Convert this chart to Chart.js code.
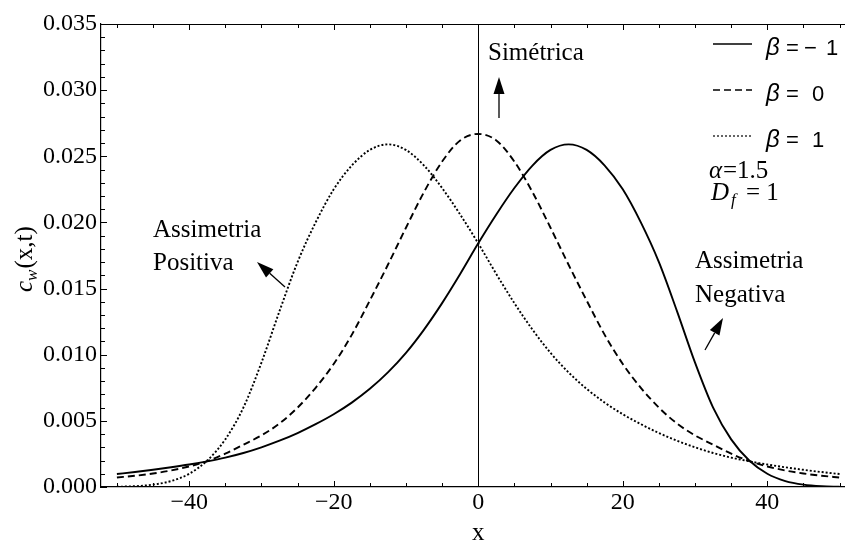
<!DOCTYPE html>
<html lang="pt">

<head>
    <meta charset="utf-8" />
    <script src="https://cdn.jsdelivr.net/npm/chart.js@4.4.1/dist/chart.umd.min.js"></script>
    <style>
        html, body { margin: 0; padding: 0; background: #fff; overflow: hidden; }
        canvas { display: block; }
    </style>
</head>

<body>
    <canvas id="levyChart" width="845" height="544"></canvas>

    <script>
        // sample positions along x
        const xValues = [
            -50, -47.5, -45, -42.5, -40, -37.5, -35, -32.5, -30, -27.5, -25, -22.5, -20, -17.5,
            -15, -12.5, -10, -7.5, -5, -2.5, 0, 2.5, 5, 7.5, 10, 12.5, 15, 17.5, 20, 22.5,
            25, 27.5, 30, 32.5, 35, 37.5, 40, 42.5, 45, 47.5, 50
        ];

        // c_w(x,t) for beta = -1 (solid)
        const betaMinus1 = [
            0.00098, 0.00113, 0.00130, 0.00149, 0.00170, 0.00194, 0.00222, 0.00257, 0.00300, 0.00350,
            0.00408, 0.00475, 0.00550, 0.00638, 0.00742, 0.00866, 0.01014, 0.01190, 0.01390, 0.01610,
            0.01842, 0.02060, 0.02260, 0.02430, 0.02548, 0.02590, 0.02548, 0.02430, 0.02250, 0.02000,
            0.01700, 0.01330, 0.00940, 0.00600, 0.00360, 0.00200, 0.00100, 0.00045, 0.00018, 0.00006,
            0.00002
        ];

        // beta = 0 (dashed)
        const betaZero = [
            0.00072, 0.00085, 0.00102, 0.00125, 0.00155, 0.00196, 0.00252, 0.00320, 0.00390, 0.00480,
            0.00600, 0.00750, 0.00930, 0.01150, 0.01410, 0.01680, 0.01960, 0.02230, 0.02460, 0.02620,
            0.02669, 0.02620, 0.02460, 0.02230, 0.01960, 0.01680, 0.01410, 0.01150, 0.00930, 0.00750,
            0.00600, 0.00480, 0.00390, 0.00320, 0.00252, 0.00196, 0.00155, 0.00125, 0.00102, 0.00085,
            0.00072
        ];

        // beta = 1 (dotted)
        const betaPlus1 = [
            0.00002, 0.00006, 0.00018, 0.00045, 0.00100, 0.00200, 0.00360, 0.00600, 0.00940, 0.01330,
            0.01700, 0.02000, 0.02250, 0.02430, 0.02548, 0.02590, 0.02548, 0.02430, 0.02260, 0.02060,
            0.01842, 0.01610, 0.01390, 0.01190, 0.01014, 0.00866, 0.00742, 0.00638, 0.00550, 0.00475,
            0.00408, 0.00350, 0.00300, 0.00257, 0.00222, 0.00194, 0.00170, 0.00149, 0.00130, 0.00113,
            0.00098
        ];

        const seriesNames = ["\u03b2 = \u22121", "\u03b2 = 0", "\u03b2 = 1"];

        // frame ticks
        const xMajorTicks = [-40, -20, 0, 20, 40];
        const xMinorTicks = [-50, -45, -35, -30, -25, -15, -10, -5, 5, 10, 15, 25, 30, 35, 45, 50];
        const yMajorTicks = [0, 0.005, 0.010, 0.015, 0.020, 0.025, 0.030, 0.035];
        const yMinorTicks = [
            0.001, 0.002, 0.003, 0.004, 0.006, 0.007, 0.008, 0.009, 0.011, 0.012, 0.013, 0.014,
            0.016, 0.017, 0.018, 0.019, 0.021, 0.022, 0.023, 0.024, 0.026, 0.027, 0.028, 0.029,
            0.031, 0.032, 0.033, 0.034
        ];

        const SERIF = '"Liberation Serif", "Times New Roman", serif';
        const SANS = '"Liberation Sans", Arial, sans-serif';

        const lineStyles = [
            { dash: [], width: 1.9 },
            { dash: [7, 4], width: 1.9 },
            { dash: [2, 2], width: 1.9 },
        ];

        function arrow(ctx, x0, y0, x1, y1) {
            const ang = Math.atan2(y1 - y0, x1 - x0);
            const len = 17, half = 5.5;
            const bx = x1 - len * Math.cos(ang), by = y1 - len * Math.sin(ang);
            ctx.beginPath();
            ctx.moveTo(x0, y0);
            ctx.lineTo(bx, by);
            ctx.lineWidth = 1.3;
            ctx.stroke();
            ctx.beginPath();
            ctx.moveTo(x1, y1);
            ctx.lineTo(bx + half * Math.sin(ang), by - half * Math.cos(ang));
            ctx.lineTo(bx - half * Math.sin(ang), by + half * Math.cos(ang));
            ctx.closePath();
            ctx.fill();
        }

        // inward frame ticks, top border, legend, notes and axis titles
        const framePlugin = {
            id: 'frameExtras',
            afterDraw(chart) {
                const { ctx, chartArea: a, scales: { x, y } } = chart;
                ctx.save();
                ctx.strokeStyle = '#000';
                ctx.fillStyle = '#000';
                ctx.lineWidth = 1;

                // top border
                ctx.beginPath();
                ctx.moveTo(a.left, a.top + 0.5);
                ctx.lineTo(a.right, a.top + 0.5);
                ctx.stroke();

                const xt = (v, len) => {
                    const px = Math.round(x.getPixelForValue(v)) + 0.5;
                    ctx.moveTo(px, a.bottom); ctx.lineTo(px, a.bottom - len);
                    ctx.moveTo(px, a.top); ctx.lineTo(px, a.top + len);
                };
                const yt = (v, len) => {
                    const py = Math.round(y.getPixelForValue(v)) + 0.5;
                    ctx.moveTo(a.left, py); ctx.lineTo(a.left + len, py);
                };
                ctx.beginPath();
                xMajorTicks.forEach(v => xt(v, 6));
                xMinorTicks.forEach(v => xt(v, 4));
                yMajorTicks.forEach(v => yt(v, 6));
                yMinorTicks.forEach(v => yt(v, 4));
                ctx.stroke();

                // legend
                const rows = [44, 90, 136];
                rows.forEach((ry, i) => {
                    ctx.beginPath();
                    ctx.setLineDash(lineStyles[i].dash);
                    ctx.lineWidth = i === 2 ? 1.2 : 1.7;
                    ctx.moveTo(713, ry);
                    ctx.lineTo(752, ry);
                    ctx.stroke();
                    ctx.setLineDash([]);

                    const rest = seriesNames[i].split('=')[1].trim();
                    ctx.textBaseline = 'alphabetic';
                    ctx.textAlign = 'left';
                    ctx.font = 'italic 24px ' + SANS;
                    ctx.fillText('\u03b2', 766, ry + 11);
                    ctx.font = '22px ' + SANS;
                    ctx.fillText('=', 786, ry + 11);
                    if (rest.length > 1) {
                        ctx.fillText(rest[0], 804, ry + 11);
                        ctx.fillText(rest.slice(1), 826, ry + 11);
                    } else {
                        ctx.fillText(rest, 812, ry + 11);
                    }
                });

                // parameters
                ctx.font = 'italic 25px ' + SERIF;
                ctx.fillText('\u03b1', 709, 178);
                ctx.font = '25px ' + SERIF;
                ctx.fillText('=1.5', 723, 178);
                ctx.font = 'italic 25px ' + SERIF;
                ctx.fillText('D', 711, 200);
                ctx.font = 'italic 17px ' + SERIF;
                ctx.fillText('f', 731, 205);
                ctx.font = '25px ' + SERIF;
                ctx.fillText('= 1', 746, 200);

                // notes
                ctx.font = '25px ' + SERIF;
                ctx.fillText('Sim\u00e9trica', 488, 60);
                ctx.fillText('Assimetria', 153, 237);
                ctx.fillText('Positiva', 153, 270);
                ctx.fillText('Assimetria', 695, 268);
                ctx.fillText('Negativa', 695, 302);

                arrow(ctx, 499, 118, 499, 77);
                arrow(ctx, 285, 287, 257, 262);
                arrow(ctx, 705, 350, 723, 318);

                // axis titles
                ctx.font = '25px ' + SERIF;
                ctx.textAlign = 'center';
                ctx.fillText('x', x.getPixelForValue(0), 540);

                ctx.translate(32, 292);
                ctx.rotate(-Math.PI / 2);
                ctx.textAlign = 'left';
                ctx.font = 'italic 25px ' + SERIF;
                ctx.fillText('c', 0, 0);
                let off = ctx.measureText('c').width;
                ctx.font = 'italic 17px ' + SERIF;
                ctx.fillText('w', off, 5);
                off += ctx.measureText('w').width + 1;
                ctx.font = '25px ' + SERIF;
                ctx.fillText('(x,t)', off, 0);

                ctx.restore();
            }
        };

        const curves = [betaMinus1, betaZero, betaPlus1];

        new Chart(document.getElementById('levyChart'), {
            type: 'line',
            data: {
                datasets: curves.map((vals, i) => ({
                    label: seriesNames[i],
                    data: xValues.map((xv, k) => ({ x: xv, y: vals[k] })),
                    borderColor: '#000',
                    borderWidth: lineStyles[i].width,
                    borderDash: lineStyles[i].dash,
                    pointRadius: 0,
                    fill: false,
                    cubicInterpolationMode: 'monotone',
                }))
            },
            options: {
                responsive: false,
                animation: false,
                layout: { padding: { top: 24, right: 0, bottom: 0, left: 0 } },
                plugins: {
                    legend: { display: false },
                    tooltip: { enabled: false },
                },
                scales: {
                    x: {
                        type: 'linear',
                        min: -52.2,
                        max: 50.75,
                        afterFit: s => { s.height = 57; },
                        afterBuildTicks: s => { s.ticks = xMajorTicks.map(v => ({ value: v })); },
                        ticks: {
                            autoSkip: false,
                            maxRotation: 0,
                            padding: 1,
                            color: '#000',
                            font: { family: SERIF, size: 24 },
                            callback: v => v < 0 ? '\u2212' + Math.abs(v) : String(v),
                        },
                        grid: {
                            drawTicks: false,
                            lineWidth: 1,
                            color: c => (c.tick && c.tick.value === 0) ? '#000' : 'rgba(0,0,0,0)',
                        },
                        border: { color: '#000', width: 1.2 },
                    },
                    y: {
                        min: 0,
                        max: 0.035,
                        afterFit: s => { s.width = 101; },
                        afterBuildTicks: s => { s.ticks = yMajorTicks.map(v => ({ value: v })); },
                        ticks: {
                            padding: 4,
                            color: '#000',
                            font: { family: SERIF, size: 24 },
                            callback: v => v.toFixed(3),
                        },
                        grid: { display: false, drawTicks: false },
                        border: { color: '#000', width: 1.2 },
                    }
                }
            },
            plugins: [framePlugin]
        });
    </script>
</body>

</html>
